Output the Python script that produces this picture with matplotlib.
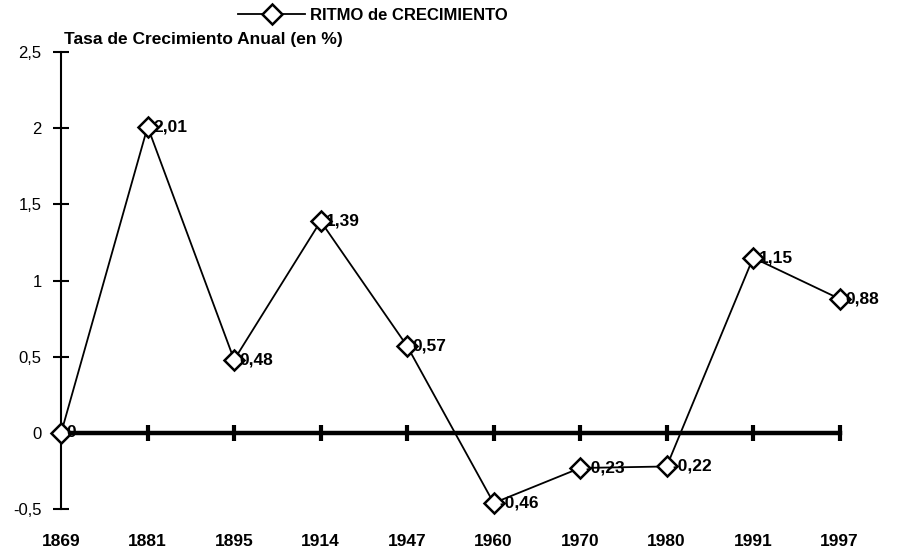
import numpy as np
import matplotlib.pyplot as plt

plt.rcParams["font.family"] = ["Liberation Sans", "DejaVu Sans"]

# data
years = ["1869", "1881", "1895", "1914", "1947", "1960", "1970", "1980", "1991", "1997"]
rates = [0, 2.01, 0.48, 1.39, 0.57, -0.46, -0.23, -0.22, 1.15, 0.88]
point_labels = ["0", "2,01", "0,48", "1,39", "0,57", "-0,46", "-0,23", "-0,22", "1,15", "0,88"]
y_ticks = [-0.5, 0, 0.5, 1, 1.5, 2, 2.5]
y_ticklabels = ["-0,5", "0", "0,5", "1", "1,5", "2", "2,5"]

x = np.arange(len(years))

fig = plt.figure(figsize=(8.99, 5.54), dpi=100)
ax = fig.add_axes([0.068, 0.081, 0.866, 0.825])

line, = ax.plot(x, rates, color="black", linewidth=1.3, marker="D", markersize=10,
                markerfacecolor="white", markeredgecolor="black", markeredgewidth=1.8,
                zorder=4, clip_on=False, label="RITMO de CRECIMIENTO")

for xi, yi, lab in zip(x, rates, point_labels):
    ax.annotate(lab, (xi, yi), xytext=(4, 0), textcoords="offset points",
                ha="left", va="center", fontsize=12.5, fontweight="bold", zorder=5)

ax.set_xlim(0, len(years) - 1)
ax.set_ylim(-0.5, 2.5)

# y axis
ax.set_yticks(y_ticks)
ax.set_yticklabels(y_ticklabels, fontsize=12)
ax.tick_params(axis="y", direction="inout", length=12, width=1.5, pad=8)
ax.spines["left"].set_linewidth(1.5)
for s in ["top", "right", "bottom"]:
    ax.spines[s].set_visible(False)

# x labels at bottom
ax.set_xticks(x)
ax.set_xticklabels(years, fontsize=12.5, fontweight="bold")
ax.tick_params(axis="x", length=0, pad=18)

# zero line with category ticks
sec = ax.secondary_xaxis(0.5 / 3.0)
sec.set_xticks(x)
sec.set_xticklabels([])
sec.tick_params(direction="inout", length=12, width=3)
sec.spines["bottom"].set_linewidth(3.2)

fig.text(0.071, 0.915, "Tasa de Crecimiento Anual (en %)", fontsize=12.5, fontweight="bold",
         ha="left", va="bottom")

fig.legend(handles=[line], loc="center", bbox_to_anchor=(0.415, 0.972), frameon=False,
           handlelength=4, prop={"weight": "bold", "size": 12}, handletextpad=0.3)

fig.savefig("out.png", dpi=100)
